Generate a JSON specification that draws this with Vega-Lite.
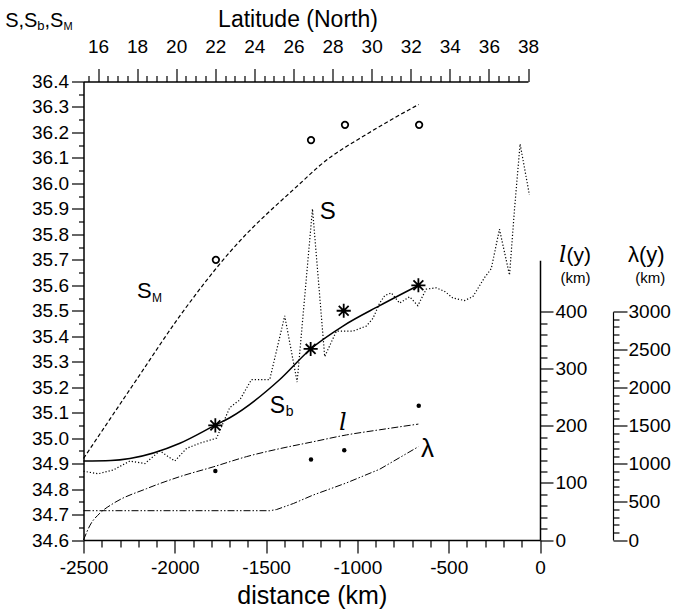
{
  "$schema": "https://vega.github.io/schema/vega-lite/v6.json",
  "width": 456.5,
  "height": 458.5,
  "autosize": {"type": "none"},
  "padding": {"left": 83.5, "top": 81.5, "right": 136, "bottom": 73},
  "background": "white",
  "config": {
    "view": {"stroke": null},
    "axis": {"grid": false, "domainColor": "black", "tickColor": "black", "labelColor": "black", "titleColor": "black", "labelFont": "Liberation Sans", "titleFont": "Liberation Sans", "labelFontSize": 19, "titleFontWeight": "normal", "domainWidth": 1.5, "tickWidth": 1.2, "labelOverlap": false, "labelFlush": false},
    "text": {"font": "Liberation Sans", "color": "black"}
  },
  "datasets": {
    "sm": [{"d": -2500, "s": 34.92}, {"d": -2209, "s": 35.23}, {"d": -1972, "s": 35.48}, {"d": -1699, "s": 35.73}, {"d": -1298, "s": 36.01}, {"d": -1206, "s": 36.07}, {"d": -933, "s": 36.2}, {"d": -664, "s": 36.31}],
    "sb": [{"d": -2500, "s": 34.91}, {"d": -2350, "s": 34.912}, {"d": -2246, "s": 34.92}, {"d": -1972, "s": 34.98}, {"d": -1781, "s": 35.05}, {"d": -1699, "s": 35.08}, {"d": -1425, "s": 35.23}, {"d": -1256, "s": 35.35}, {"d": -1079, "s": 35.44}, {"d": -878, "s": 35.52}, {"d": -664, "s": 35.6}],
    "s": [{"d": -2500, "s": 34.87}, {"d": -2419, "s": 34.86}, {"d": -2337, "s": 34.875}, {"d": -2246, "s": 34.91}, {"d": -2164, "s": 34.9}, {"d": -2082, "s": 34.95}, {"d": -2000, "s": 34.91}, {"d": -1935, "s": 34.96}, {"d": -1863, "s": 34.98}, {"d": -1771, "s": 35.0}, {"d": -1699, "s": 35.12}, {"d": -1644, "s": 35.15}, {"d": -1580, "s": 35.23}, {"d": -1480, "s": 35.23}, {"d": -1398, "s": 35.48}, {"d": -1330, "s": 35.22}, {"d": -1246, "s": 35.9}, {"d": -1179, "s": 35.32}, {"d": -1115, "s": 35.42}, {"d": -1024, "s": 35.42}, {"d": -951, "s": 35.44}, {"d": -915, "s": 35.47}, {"d": -878, "s": 35.53}, {"d": -850, "s": 35.56}, {"d": -814, "s": 35.57}, {"d": -769, "s": 35.53}, {"d": -714, "s": 35.555}, {"d": -669, "s": 35.52}, {"d": -623, "s": 35.585}, {"d": -568, "s": 35.59}, {"d": -520, "s": 35.575}, {"d": -477, "s": 35.55}, {"d": -413, "s": 35.54}, {"d": -368, "s": 35.555}, {"d": -304, "s": 35.63}, {"d": -267, "s": 35.665}, {"d": -222, "s": 35.82}, {"d": -167, "s": 35.64}, {"d": -140, "s": 35.895}, {"d": -109, "s": 36.155}, {"d": -58, "s": 35.955}],
    "circ": [{"d": -1775, "s": 35.7}, {"d": -1254, "s": 36.17}, {"d": -1068, "s": 36.23}, {"d": -662, "s": 36.23}],
    "ast": [{"d": -1778, "s": 35.05}, {"d": -1256, "s": 35.35}, {"d": -1075, "s": 35.5}, {"d": -666, "s": 35.6}],
    "l": [{"d": -2500, "l": 0}, {"d": -2464, "l": 26}, {"d": -2410, "l": 47}, {"d": -2337, "l": 64}, {"d": -2154, "l": 90}, {"d": -1972, "l": 111}, {"d": -1790, "l": 128}, {"d": -1607, "l": 146}, {"d": -1425, "l": 160}, {"d": -1243, "l": 172}, {"d": -1060, "l": 184}, {"d": -878, "l": 193}, {"d": -666, "l": 203}],
    "ldots": [{"d": -1778, "l": 121}, {"d": -1254, "l": 141}, {"d": -1072, "l": 157}, {"d": -664, "l": 235}],
    "lam": [{"d": -2500, "lam": 385}, {"d": -1480, "lam": 385}, {"d": -1443, "lam": 400}, {"d": -1350, "lam": 480}, {"d": -1243, "lam": 590}, {"d": -1060, "lam": 750}, {"d": -878, "lam": 930}, {"d": -666, "lam": 1226}],
    "lat": [{"lat": 16}, {"lat": 38}],
    "hdr": [{"d": -2929, "s": 36.615}],
    "smlab": [{"d": -2207, "s": 35.55}],
    "sblab": [{"d": -1480, "s": 35.099}],
    "slab": [{"d": -1163, "s": 35.859}],
    "llab": [{"d": -1080, "l": 193}],
    "lhead": [{"d": 145, "l": 487, "l2": 450}],
    "lamlab": [{"d": -616, "lam": 1091}],
    "lamhead": [{"d": 582, "lam": 3653, "lam2": 3380}]
  },
  "resolve": {"scale": {"x": "independent", "y": "independent"}, "axis": {"x": "independent", "y": "independent"}},
  "layer": [
    {
      "resolve": {"axis": {"x": "independent", "y": "independent"}},
      "layer": [
        {
          "data": {"name": "sm"},
          "mark": {"type": "line", "color": "black", "strokeWidth": 1.2, "strokeDash": [4, 2.5], "interpolate": "monotone"},
          "encoding": {
            "x": {"field": "d", "type": "quantitative", "scale": {"domain": [-2500, 0], "nice": false, "zero": false},
              "axis": {"orient": "bottom", "values": [-2500, -2000, -1500, -1000, -500, 0], "tickSize": 13, "labelPadding": 5, "labelExpr": "datum.value == 0 ? '0' : '-' + abs(datum.value)", "title": "distance (km)", "titleFontSize": 25, "titlePadding": 6}},
            "y": {"field": "s", "type": "quantitative", "scale": {"domain": [34.6, 36.4], "nice": false, "zero": false},
              "axis": {"orient": "left", "values": [34.6, 34.7, 34.8, 34.9, 35.0, 35.1, 35.2, 35.3, 35.4, 35.5, 35.6, 35.7, 35.8, 35.9, 36.0, 36.1, 36.2, 36.3, 36.4], "format": ".1f", "tickSize": 12, "labelPadding": 3, "title": null}}
          }
        },
        {
          "data": {"name": "s"},
          "mark": {"type": "line", "color": "black", "strokeWidth": 1.2, "strokeDash": [1.2, 2]},
          "encoding": {
            "x": {"field": "d", "type": "quantitative", "scale": {"domain": [-2500, 0], "nice": false, "zero": false},
              "axis": {"orient": "bottom", "values": [-2400, -2300, -2200, -2100, -1900, -1800, -1700, -1600, -1400, -1300, -1200, -1100, -900, -800, -700, -600, -400, -300, -200, -100], "tickSize": 7, "labels": false, "domain": false, "title": null}},
            "y": {"field": "s", "type": "quantitative", "scale": {"domain": [34.6, 36.4], "nice": false, "zero": false},
              "axis": {"orient": "left", "values": [34.65, 34.75, 34.85, 34.95, 35.05, 35.15, 35.25, 35.35, 35.45, 35.55, 35.65, 35.75, 35.85, 35.95, 36.05, 36.15, 36.25, 36.35], "tickSize": 5, "labels": false, "domain": false, "title": null}}
          }
        },
        {
          "data": {"name": "sb"},
          "mark": {"type": "line", "color": "black", "strokeWidth": 1.5, "interpolate": "monotone"},
          "encoding": {
            "x": {"field": "d", "type": "quantitative", "scale": {"domain": [-2500, 0], "nice": false, "zero": false}, "axis": null},
            "y": {"field": "s", "type": "quantitative", "scale": {"domain": [34.6, 36.4], "nice": false, "zero": false}, "axis": null}
          }
        },
        {
          "data": {"name": "circ"},
          "mark": {"type": "point", "shape": "circle", "filled": false, "color": "black", "strokeWidth": 1.8, "size": 42, "opacity": 1},
          "encoding": {
            "x": {"field": "d", "type": "quantitative", "scale": {"domain": [-2500, 0], "nice": false, "zero": false}, "axis": null},
            "y": {"field": "s", "type": "quantitative", "scale": {"domain": [34.6, 36.4], "nice": false, "zero": false}, "axis": null}
          }
        },
        {
          "data": {"name": "ast"},
          "mark": {"type": "point", "shape": "M-1,0L1,0M0,-1L0,1M-0.7,-0.7L0.7,0.7M-0.7,0.7L0.7,-0.7", "filled": false, "color": "black", "strokeWidth": 1.8, "size": 200, "opacity": 1},
          "encoding": {
            "x": {"field": "d", "type": "quantitative", "scale": {"domain": [-2500, 0], "nice": false, "zero": false}, "axis": null},
            "y": {"field": "s", "type": "quantitative", "scale": {"domain": [34.6, 36.4], "nice": false, "zero": false}, "axis": null}
          }
        },
        {
          "data": {"name": "hdr"},
          "layer": [
            {"mark": {"type": "text", "text": "S,S", "fontSize": 20, "align": "left", "baseline": "alphabetic"}},
            {"mark": {"type": "text", "text": "b", "fontSize": 13, "align": "left", "baseline": "alphabetic", "dx": 32.2, "dy": 3}},
            {"mark": {"type": "text", "text": ",S", "fontSize": 20, "align": "left", "baseline": "alphabetic", "dx": 39.4}},
            {"mark": {"type": "text", "text": "M", "fontSize": 11, "align": "left", "baseline": "alphabetic", "dx": 58.3, "dy": 3}}
          ],
          "encoding": {
            "x": {"field": "d", "type": "quantitative", "scale": {"domain": [-2500, 0], "nice": false, "zero": false}, "axis": null},
            "y": {"field": "s", "type": "quantitative", "scale": {"domain": [34.6, 36.4], "nice": false, "zero": false}, "axis": null}
          }
        },
        {
          "data": {"name": "smlab"},
          "layer": [
            {"mark": {"type": "text", "text": "S", "fontSize": 22, "align": "left", "baseline": "alphabetic"}},
            {"mark": {"type": "text", "text": "M", "fontSize": 12, "align": "left", "baseline": "alphabetic", "dx": 15, "dy": 4}}
          ],
          "encoding": {
            "x": {"field": "d", "type": "quantitative", "scale": {"domain": [-2500, 0], "nice": false, "zero": false}, "axis": null},
            "y": {"field": "s", "type": "quantitative", "scale": {"domain": [34.6, 36.4], "nice": false, "zero": false}, "axis": null}
          }
        },
        {
          "data": {"name": "sblab"},
          "layer": [
            {"mark": {"type": "text", "text": "S", "fontSize": 23, "align": "left", "baseline": "alphabetic"}},
            {"mark": {"type": "text", "text": "b", "fontSize": 14, "align": "left", "baseline": "alphabetic", "dx": 16, "dy": 3}}
          ],
          "encoding": {
            "x": {"field": "d", "type": "quantitative", "scale": {"domain": [-2500, 0], "nice": false, "zero": false}, "axis": null},
            "y": {"field": "s", "type": "quantitative", "scale": {"domain": [34.6, 36.4], "nice": false, "zero": false}, "axis": null}
          }
        },
        {
          "data": {"name": "slab"},
          "mark": {"type": "text", "text": "S", "fontSize": 24, "align": "center", "baseline": "alphabetic"},
          "encoding": {
            "x": {"field": "d", "type": "quantitative", "scale": {"domain": [-2500, 0], "nice": false, "zero": false}, "axis": null},
            "y": {"field": "s", "type": "quantitative", "scale": {"domain": [34.6, 36.4], "nice": false, "zero": false}, "axis": null}
          }
        }
      ]
    },
    {
      "resolve": {"axis": {"y": "independent"}},
      "layer": [
        {
          "data": {"name": "l"},
          "mark": {"type": "line", "color": "black", "strokeWidth": 1, "strokeDash": [7, 2, 1.5, 2], "interpolate": "monotone"},
          "encoding": {
            "x": {"field": "d", "type": "quantitative", "scale": {"domain": [-2500, 0], "nice": false, "zero": false}, "axis": null},
            "y": {"field": "l", "type": "quantitative", "scale": {"domain": [0, 490], "range": [458.5, 178.7], "nice": false, "zero": false},
              "axis": {"orient": "right", "values": [0, 100, 200, 300, 400], "tickSize": 13, "labelPadding": 2, "title": null}}
          }
        },
        {
          "data": {"name": "ldots"},
          "mark": {"type": "point", "shape": "circle", "filled": true, "color": "black", "size": 20, "opacity": 1},
          "encoding": {
            "x": {"field": "d", "type": "quantitative", "scale": {"domain": [-2500, 0], "nice": false, "zero": false}, "axis": null},
            "y": {"field": "l", "type": "quantitative", "scale": {"domain": [0, 490], "range": [458.5, 178.7], "nice": false, "zero": false},
              "axis": {"orient": "right", "values": [20, 40, 60, 80, 120, 140, 160, 180, 220, 240, 260, 280, 320, 340, 360, 380], "tickSize": 7, "labels": false, "domain": false, "title": null}}
          }
        },
        {
          "data": {"name": "llab"},
          "mark": {"type": "text", "text": "l", "font": "DejaVu Serif", "fontStyle": "italic", "fontSize": 24, "align": "center", "baseline": "alphabetic"},
          "encoding": {
            "x": {"field": "d", "type": "quantitative", "scale": {"domain": [-2500, 0], "nice": false, "zero": false}, "axis": null},
            "y": {"field": "l", "type": "quantitative", "scale": {"domain": [0, 490], "range": [458.5, 178.7], "nice": false, "zero": false}, "axis": null}
          }
        },
        {
          "data": {"name": "lhead"},
          "layer": [
            {"mark": {"type": "text", "text": "l", "font": "DejaVu Serif", "fontStyle": "italic", "fontSize": 23, "align": "right", "baseline": "alphabetic"},
             "encoding": {"y": {"field": "l", "type": "quantitative", "scale": {"domain": [0, 490], "range": [458.5, 178.7], "nice": false, "zero": false}, "axis": null}}},
            {"mark": {"type": "text", "text": "(y)", "fontSize": 21, "align": "left", "baseline": "alphabetic"},
             "encoding": {"y": {"field": "l", "type": "quantitative", "scale": {"domain": [0, 490], "range": [458.5, 178.7], "nice": false, "zero": false}, "axis": null}}},
            {"mark": {"type": "text", "text": "(km)", "fontSize": 15, "align": "center", "baseline": "alphabetic", "dx": 9},
             "encoding": {"y": {"field": "l2", "type": "quantitative", "scale": {"domain": [0, 490], "range": [458.5, 178.7], "nice": false, "zero": false}, "axis": null}}}
          ],
          "encoding": {
            "x": {"field": "d", "type": "quantitative", "scale": {"domain": [-2500, 0], "nice": false, "zero": false}, "axis": null}
          }
        }
      ]
    },
    {
      "resolve": {"axis": {"y": "independent"}},
      "layer": [
        {
          "data": {"name": "lam"},
          "mark": {"type": "line", "color": "black", "strokeWidth": 1, "strokeDash": [7, 2, 1.5, 2, 1.5, 2]},
          "encoding": {
            "x": {"field": "d", "type": "quantitative", "scale": {"domain": [-2500, 0], "nice": false, "zero": false}, "axis": null},
            "y": {"field": "lam", "type": "quantitative", "scale": {"domain": [0, 3000], "range": [458.5, 230.2], "nice": false, "zero": false},
              "axis": {"orient": "right", "offset": 73, "values": [0, 500, 1000, 1500, 2000, 2500, 3000], "format": "d", "tickSize": 14, "labelPadding": 1, "domainWidth": 1.2, "title": null}}
          }
        },
        {
          "data": {"name": "lamlab"},
          "mark": {"type": "text", "text": "λ", "fontSize": 26, "align": "center", "baseline": "alphabetic"},
          "encoding": {
            "x": {"field": "d", "type": "quantitative", "scale": {"domain": [-2500, 0], "nice": false, "zero": false}, "axis": null},
            "y": {"field": "lam", "type": "quantitative", "scale": {"domain": [0, 3000], "range": [458.5, 230.2], "nice": false, "zero": false},
              "axis": {"orient": "right", "offset": 73, "values": [100, 200, 300, 400, 600, 700, 800, 900, 1100, 1200, 1300, 1400, 1600, 1700, 1800, 1900, 2100, 2200, 2300, 2400, 2600, 2700, 2800, 2900], "tickSize": 6, "labels": false, "domain": false, "title": null}}
          }
        },
        {
          "data": {"name": "lamhead"},
          "layer": [
            {"mark": {"type": "text", "text": "λ(y)", "fontSize": 22, "align": "center", "baseline": "alphabetic"},
             "encoding": {"y": {"field": "lam", "type": "quantitative", "scale": {"domain": [0, 3000], "range": [458.5, 230.2], "nice": false, "zero": false}, "axis": null}}},
            {"mark": {"type": "text", "text": "(km)", "fontSize": 15, "align": "center", "baseline": "alphabetic", "dx": 4},
             "encoding": {"y": {"field": "lam2", "type": "quantitative", "scale": {"domain": [0, 3000], "range": [458.5, 230.2], "nice": false, "zero": false}, "axis": null}}}
          ],
          "encoding": {
            "x": {"field": "d", "type": "quantitative", "scale": {"domain": [-2500, 0], "nice": false, "zero": false}, "axis": null}
          }
        }
      ]
    },
    {
      "data": {"name": "lat"},
      "resolve": {"axis": {"x": "independent"}},
      "layer": [
        {
          "mark": {"type": "point", "opacity": 0},
          "encoding": {
            "x": {"field": "lat", "type": "quantitative", "scale": {"domain": [15.258, 38], "range": [0, 444.5], "nice": false, "zero": false},
              "axis": {"orient": "top", "values": [16, 18, 20, 22, 24, 26, 28, 30, 32, 34, 36, 38], "tickSize": 13, "labelPadding": 12, "title": "Latitude (North)", "titleFontSize": 23, "titlePadding": 6, "titleX": 214}}
          }
        },
        {
          "mark": {"type": "point", "opacity": 0},
          "encoding": {
            "x": {"field": "lat", "type": "quantitative", "scale": {"domain": [15.258, 38], "range": [0, 444.5], "nice": false, "zero": false},
              "axis": {"orient": "top", "values": [15.5, 16.5, 17, 17.5, 18.5, 19, 19.5, 20.5, 21, 21.5, 22.5, 23, 23.5, 24.5, 25, 25.5, 26.5, 27, 27.5, 28.5, 29, 29.5, 30.5, 31, 31.5, 32.5, 33, 33.5, 34.5, 35, 35.5, 36.5, 37, 37.5], "tickSize": 6, "labels": false, "domain": false, "title": null}}
          }
        }
      ]
    }
  ]
}
